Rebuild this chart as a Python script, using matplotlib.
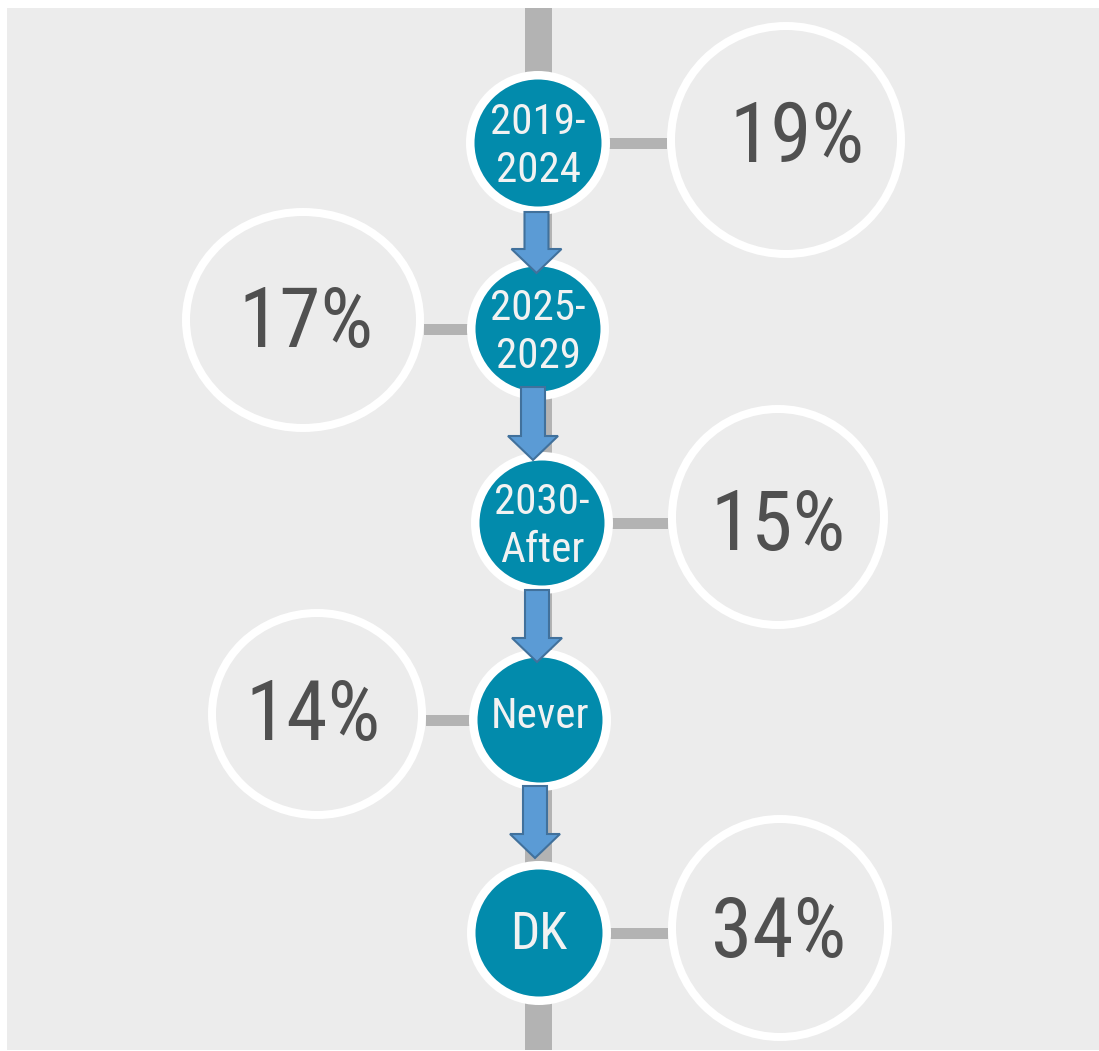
import os
import matplotlib
matplotlib.use("Agg")
import matplotlib.pyplot as plt
from matplotlib import font_manager as fm
from matplotlib.patches import Circle, Ellipse, Rectangle, FancyArrow

# ---- data ----
stage_labels = ["2019-\n2024", "2025-\n2029", "2030-\nAfter", "Never", "DK"]
shares = [19, 17, 15, 14, 34]

# ---- layout (pixel space) ----
node_x = [538, 538, 542, 540, 539]
node_y = [143, 329, 523, 720, 933]
node_r = [72, 71, 71, 71, 72]
label_size = [31, 31, 31, 31, 37]

ring_cx = [786, 303, 778, 317, 780]
ring_cy = [140, 320, 517, 714, 928]
ring_rx = [119, 121, 110, 109, 112]
ring_ry = [118, 112, 112, 105, 113]
pct_x = [797, 306, 778, 313, 779]
pct_base = [162, 347, 550, 740, 957]

arrow_x = [536.5, 533, 537, 535]
arrow_top = [212, 387, 590, 786]
arrow_tip = [273, 460, 662, 858]

# ---- pick a condensed font ----
files = {os.path.basename(f.fname).lower(): f.fname for f in fm.fontManager.ttflist}


def pick(patterns):
    for p in patterns:
        for b, full in files.items():
            if b.startswith(p):
                return full
    for f in fm.fontManager.ttflist:
        nm = (f.name + " " + str(f.stretch) + " " + f.fname).lower()
        if ("condensed" in nm or "narrow" in nm) and f.style == "normal":
            return f.fname
    return None


f_pct = pick(["robotocondensed-regular", "notosans-condensed.",
              "liberationsansnarrow-regular", "dejavusanscondensed."])
f_lab = pick(["robotocondensed-regular", "notosans-condensed.",
              "liberationsansnarrow-regular", "dejavusanscondensed."])


def fp(path, size):
    if path:
        return fm.FontProperties(fname=path, size=size)
    return fm.FontProperties(family="DejaVu Sans", size=size * 0.8)


W, H = 1099, 1051
fig = plt.figure(figsize=(W / 100, H / 100), dpi=100)
fig.patch.set_facecolor("white")
ax = fig.add_axes([0, 0, 1, 1])
ax.set_xlim(0, W)
ax.set_ylim(H, 0)
ax.set_aspect("equal")
ax.axis("off")

px = 72 / 100  # points per pixel
TEAL = "#028bac"
BAR = "#b3b3b3"

ax.add_patch(Rectangle((7, 8), W - 7, 1042, facecolor="#ececec", edgecolor="none", zorder=0))
ax.add_patch(Rectangle((525, 8), 27, 1042, facecolor=BAR, edgecolor="none", zorder=1))

for i, (lab, val) in enumerate(zip(stage_labels, shares)):
    if ring_cx[i] > node_x[i]:
        x0, x1 = node_x[i], ring_cx[i] - ring_rx[i]
    else:
        x0, x1 = ring_cx[i] + ring_rx[i], node_x[i]
    ax.add_patch(Rectangle((x0, node_y[i] - 5.5), x1 - x0, 11,
                           facecolor=BAR, edgecolor="none", zorder=1))
    ax.add_patch(Ellipse((ring_cx[i], ring_cy[i]), 2 * (ring_rx[i] - 4), 2 * (ring_ry[i] - 4),
                         facecolor="none", edgecolor="white", lw=8 * px, zorder=2))
    ax.text(pct_x[i], pct_base[i], f"{val}%", ha="center", va="baseline",
            fontproperties=fp(f_pct, 60), color="#505050", zorder=3)
    ax.add_patch(Circle((node_x[i], node_y[i]), node_r[i] - 4.25, facecolor=TEAL,
                        edgecolor="white", lw=8.5 * px, zorder=4))
    lines = lab.split("\n")
    if len(lines) == 2:
        offs = [-9, 39]
    elif lab == "DK":
        offs = [16]
    else:
        offs = [8]
    for ln, off in zip(lines, offs):
        ax.text(node_x[i], node_y[i] + off, ln, ha="center", va="baseline",
                fontproperties=fp(f_lab, label_size[i]), color="#f2f2f2", zorder=5)

for i in range(len(arrow_x)):
    ax.add_patch(FancyArrow(arrow_x[i], arrow_top[i], 0, arrow_tip[i] - arrow_top[i],
                            width=24, head_width=50, head_length=24,
                            length_includes_head=True, facecolor="#5b9bd5",
                            edgecolor="#41719c", lw=1.5, zorder=6))

fig.savefig("out.png", dpi=100, facecolor="white")
